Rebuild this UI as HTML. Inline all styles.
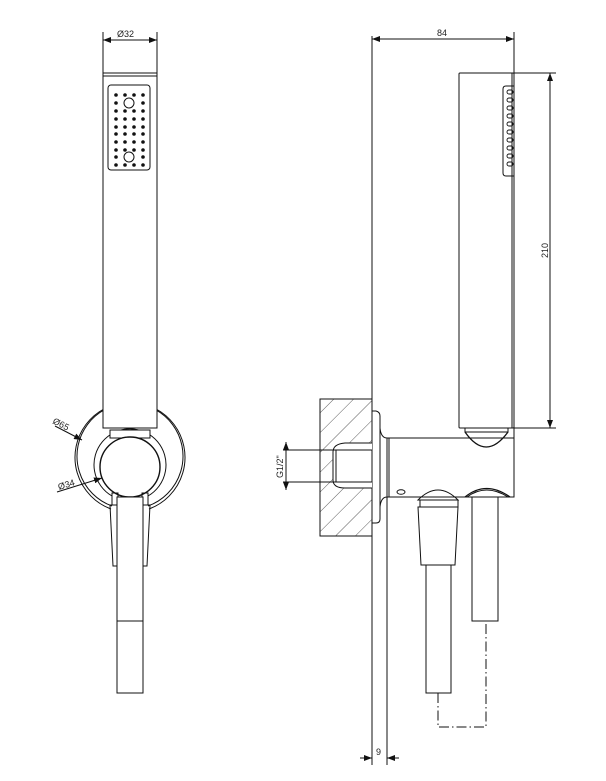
<!DOCTYPE html>
<html><head><meta charset="utf-8"><style>
html,body{margin:0;padding:0;background:#fff}
svg{display:block}
text{font-family:"Liberation Sans",sans-serif;font-size:9px;fill:#222}
</style></head><body>
<svg width="606" height="781" viewBox="0 0 606 781" xmlns="http://www.w3.org/2000/svg">
<defs>
<pattern id="h" width="14" height="14" patternUnits="userSpaceOnUse" patternTransform="rotate(45)">
<line x1="0" y1="0" x2="0" y2="14" stroke="#333" stroke-width="0.8"/>
</pattern>
<marker id="a" markerWidth="8" markerHeight="6" refX="8" refY="3" orient="auto-start-reverse" markerUnits="userSpaceOnUse">
<path d="M0,0 L8,3 L0,6z" fill="#111"/></marker>
</defs>
<g fill="none" stroke="#111" stroke-width="1">
<!-- LEFT VIEW -->
<line x1="103" y1="32" x2="103" y2="73"/><line x1="157" y1="32" x2="157" y2="73"/>
<line x1="103" y1="40" x2="157" y2="40" marker-start="url(#a)" marker-end="url(#a)"/>
<!-- mount -->
<path d="M111,509 A55,55 0 1 1 149,509"/>
<path d="M112,506 A53,53 0 1 1 148,506"/>
<path d="M112,496 A36,36 0 1 1 148,496"/>
<rect x="103" y="73" width="54" height="355" fill="#fff"/>
<line x1="103" y1="76" x2="157" y2="76"/>
<rect x="108" y="85" width="42" height="85" rx="3"/>
<circle cx="129" cy="103" r="5"/><circle cx="129" cy="157" r="5"/>
<rect x="110" y="430" width="40" height="8" fill="#fff"/>
<circle cx="130" cy="467" r="30" stroke-width="1.4" fill="#fff"/>
<rect x="112" y="493" width="6" height="12"/><rect x="142" y="493" width="6" height="12"/>
<path d="M110,505 L118,505 L118,566 L113,566 Z"/>
<path d="M150,505 L142,505 L142,566 L147,566 Z"/>
<rect x="117" y="497" width="26" height="196" fill="#fff"/>
<line x1="117" y1="621" x2="143" y2="621"/>
<line x1="55" y1="426" x2="82" y2="440" marker-end="url(#a)"/>
<line x1="57" y1="492" x2="102" y2="478" marker-end="url(#a)"/>
<!-- RIGHT VIEW -->
<line x1="372" y1="36" x2="372" y2="765"/>
<line x1="387" y1="497" x2="387" y2="765"/>
<line x1="514" y1="32" x2="514" y2="440"/>
<line x1="372" y1="39" x2="514" y2="39" marker-start="url(#a)" marker-end="url(#a)"/>
<line x1="360" y1="758" x2="372" y2="758" marker-end="url(#a)"/>
<line x1="399" y1="758" x2="387" y2="758" marker-end="url(#a)"/>
<rect x="459" y="73" width="55" height="355" rx="1"/>
<line x1="512" y1="73" x2="512" y2="428"/>
<path d="M514,86 L506,86 Q503,86 503,89 L503,173 Q503,176 506,176 L514,176"/>
<line x1="514" y1="73" x2="556" y2="73"/><line x1="514" y1="428" x2="556" y2="428"/>
<line x1="550" y1="73" x2="550" y2="428" marker-start="url(#a)" marker-end="url(#a)"/>
<!-- wall -->
<rect x="320" y="399" width="52" height="137" fill="url(#h)"/>
<path d="M372,443 L345,443 Q333,444 333,452 L333,480 Q333,488 345,488 L372,488" fill="#fff"/>
<rect x="336" y="450" width="36" height="32" fill="#fff"/>
<line x1="283" y1="450" x2="336" y2="450"/><line x1="283" y1="482" x2="336" y2="482"/>
<line x1="286" y1="442" x2="286" y2="490"/>
<line x1="286" y1="466" x2="286" y2="442" marker-end="url(#a)"/>
<line x1="286" y1="466" x2="286" y2="490" marker-end="url(#a)"/>
<path d="M372,411 L376,411 Q380,412 380,416 L380,519 Q380,523 376,523 L372,523"/>
<path d="M380,428 Q381,438 387,438 L387,497 Q381,497 380,507"/>
<line x1="389" y1="438" x2="389" y2="497"/>
<!-- body -->
<path d="M387,438 L514,438 L514,497 L387,497"/>
<path d="M465,432 Q486,462 508,432" stroke-width="1.3"/>
<rect x="465" y="428" width="43" height="4"/>
<path d="M465,497 Q486,480 510,497" stroke-width="1.3"/>
<path d="M467,497 Q486,483 508,497"/>
<ellipse cx="401" cy="492" rx="4" ry="2.3"/>
<path d="M418,500 Q438,480 458,500 Z"/>
<rect x="420" y="500" width="38" height="7"/>
<path d="M418,507 L458,507 L455,565 L421,565 Z"/>
<rect x="426" y="565" width="25" height="128"/>
<rect x="472" y="497" width="26" height="124"/>
<path d="M438,693 L438,727 L486,727 L486,621" stroke-dasharray="10,3,1.5,3"/>
</g>
<g fill="#111">
<circle cx="116" cy="95" r="1.8"/><circle cx="125" cy="95" r="1.8"/><circle cx="134" cy="95" r="1.8"/><circle cx="143" cy="95" r="1.8"/>
<circle cx="116" cy="103" r="1.8"/><circle cx="143" cy="103" r="1.8"/>
<circle cx="116" cy="111" r="1.8"/><circle cx="125" cy="111" r="1.8"/><circle cx="134" cy="111" r="1.8"/><circle cx="143" cy="111" r="1.8"/>
<circle cx="116" cy="119" r="1.8"/><circle cx="125" cy="119" r="1.8"/><circle cx="134" cy="119" r="1.8"/><circle cx="143" cy="119" r="1.8"/>
<circle cx="116" cy="127" r="1.8"/><circle cx="125" cy="127" r="1.8"/><circle cx="134" cy="127" r="1.8"/><circle cx="143" cy="127" r="1.8"/>
<circle cx="116" cy="134" r="1.8"/><circle cx="125" cy="134" r="1.8"/><circle cx="134" cy="134" r="1.8"/><circle cx="143" cy="134" r="1.8"/>
<circle cx="116" cy="142" r="1.8"/><circle cx="125" cy="142" r="1.8"/><circle cx="134" cy="142" r="1.8"/><circle cx="143" cy="142" r="1.8"/>
<circle cx="116" cy="150" r="1.8"/><circle cx="125" cy="150" r="1.8"/><circle cx="134" cy="150" r="1.8"/><circle cx="143" cy="150" r="1.8"/>
<circle cx="116" cy="157" r="1.8"/><circle cx="143" cy="157" r="1.8"/>
<circle cx="116" cy="165" r="1.8"/><circle cx="125" cy="165" r="1.8"/><circle cx="134" cy="165" r="1.8"/><circle cx="143" cy="165" r="1.8"/>
</g>
<g fill="none" stroke="#111" stroke-width="0.9">
<rect x="507" y="90" width="6" height="4" rx="2"/><rect x="507" y="98" width="6" height="4" rx="2"/><rect x="507" y="106" width="6" height="4" rx="2"/><rect x="507" y="114" width="6" height="4" rx="2"/><rect x="507" y="122" width="6" height="4" rx="2"/><rect x="507" y="130" width="6" height="4" rx="2"/><rect x="507" y="138" width="6" height="4" rx="2"/><rect x="507" y="146" width="6" height="4" rx="2"/><rect x="507" y="154" width="6" height="4" rx="2"/><rect x="507" y="162" width="6" height="4" rx="2"/>
</g>
<text x="117" y="37">Ø32</text>
<text x="437" y="36">84</text>
<text x="376" y="755">9</text>
<text transform="translate(548,258) rotate(-90)">210</text>
<text transform="translate(283,478) rotate(-90)">G1/2"</text>
<text transform="translate(52,423) rotate(27)">Ø65</text>
<text transform="translate(59,490) rotate(-17)">Ø34</text>
</svg>
</body></html>
